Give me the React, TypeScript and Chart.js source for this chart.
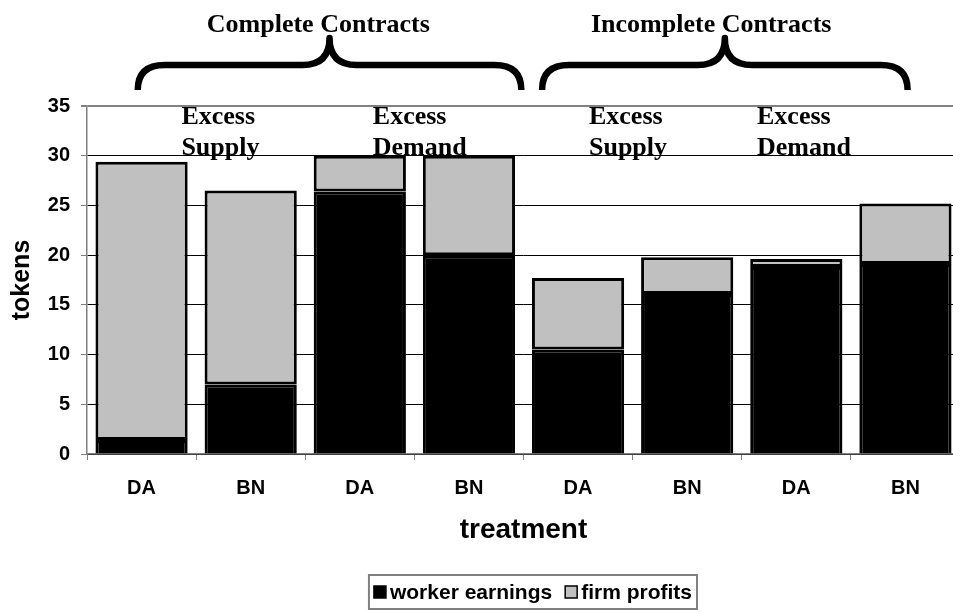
import React, { useEffect, useRef } from 'react';
import { Chart, registerables } from 'chart.js';

Chart.register(...registerables);

const categories = ['DA', 'BN', 'DA', 'BN', 'DA', 'BN', 'DA', 'BN'];
const workerEarnings = [1.4, 7.0, 26.4, 20.0, 10.5, 16.1, 18.8, 19.1];
const firmProfits = [28.0, 19.5, 3.6, 10.0, 7.2, 3.7, 0.8, 6.1];
const seriesNames = ['worker earnings', 'firm profits'];
const yTickValues = [0, 5, 10, 15, 20, 25, 30, 35];
const groupTitles = ['Complete Contracts', 'Incomplete Contracts'];
const marketLabels = [['Excess', 'Supply'], ['Excess', 'Demand'], ['Excess', 'Supply'], ['Excess', 'Demand']];

const SANS = '"Liberation Sans", Arial, sans-serif';
const SERIF = '"Liberation Serif", "Times New Roman", serif';

// annotation anchors in category units (fractional index)
const braceSpans = [
  { from: -0.035, to: 3.48, title: 1.62 },
  { from: 3.67, to: 7.02, title: 5.22 },
];
const marketLabelAnchors = [0.365, 2.119, 4.1, 5.64];

function catX(chart: any, v: number) {
  const a = chart.chartArea;
  const step = (a.right - a.left) / categories.length;
  return a.left + (v + 0.5) * step;
}

function drawBrace(ctx: CanvasRenderingContext2D, x1: number, x2: number, yPeak: number, yFlat: number, yEnd: number) {
  const xm = (x1 + x2) / 2;
  const r = 27;
  ctx.beginPath();
  ctx.moveTo(x1, yEnd);
  ctx.quadraticCurveTo(x1, yFlat, x1 + r, yFlat);
  ctx.lineTo(xm - r, yFlat);
  ctx.quadraticCurveTo(xm, yFlat, xm, yPeak);
  ctx.quadraticCurveTo(xm, yFlat, xm + r, yFlat);
  ctx.lineTo(x2 - r, yFlat);
  ctx.quadraticCurveTo(x2, yFlat, x2, yEnd);
  ctx.stroke();
}

const annotationPlugin = {
  id: 'annotations',
  afterDraw(chart: any) {
    const ctx: CanvasRenderingContext2D = chart.ctx;
    ctx.save();
    ctx.strokeStyle = '#000';
    ctx.lineWidth = 6.5;
    ctx.lineJoin = 'round';
    ctx.lineCap = 'butt';
    braceSpans.forEach((b, i) => {
      drawBrace(ctx, catX(chart, b.from), catX(chart, b.to), 38, 65, 90);
      ctx.fillStyle = '#000';
      ctx.font = `bold 26px ${SERIF}`;
      ctx.textAlign = 'center';
      ctx.textBaseline = 'alphabetic';
      ctx.fillText(groupTitles[i], catX(chart, b.title), 32);
    });
    ctx.font = `bold 26px ${SERIF}`;
    ctx.textAlign = 'left';
    ctx.textBaseline = 'alphabetic';
    marketLabels.forEach((lines, i) => {
      const x = catX(chart, marketLabelAnchors[i]);
      lines.forEach((t, j) => ctx.fillText(t, x, 124 + j * 31));
    });
    ctx.restore();
  },
};

const legendPlugin = {
  id: 'boxLegend',
  afterDraw(chart: any) {
    const ctx: CanvasRenderingContext2D = chart.ctx;
    ctx.save();
    ctx.font = `bold 21px ${SANS}`;
    const sq = 12;
    const gap = 4;
    const itemGap = 13;
    const pad = 5;
    const ds = chart.data.datasets;
    const widths = ds.map((d: any) => sq + gap + ctx.measureText(d.label).width);
    const total = widths.reduce((a: number, b: number) => a + b, 0) + itemGap * (ds.length - 1) + pad * 2;
    const right = 697;
    const top = 575;
    const h = 34;
    const left = right - total;
    ctx.strokeStyle = '#808080';
    ctx.lineWidth = 2;
    ctx.strokeRect(left, top, total, h);
    let x = left + pad;
    const cy = top + h / 2;
    ds.forEach((d: any, i: number) => {
      ctx.fillStyle = d.backgroundColor;
      ctx.fillRect(x, cy - sq / 2, sq, sq);
      ctx.strokeStyle = '#000';
      ctx.lineWidth = 1.5;
      ctx.strokeRect(x, cy - sq / 2, sq, sq);
      ctx.fillStyle = '#000';
      ctx.textAlign = 'left';
      ctx.textBaseline = 'middle';
      ctx.fillText(d.label, x + sq + gap, cy + 1);
      x += widths[i] + itemGap;
    });
    ctx.restore();
  },
};

export default function App() {
  const ref = useRef<HTMLCanvasElement | null>(null);
  useEffect(() => {
    if (!ref.current) return;
    const chart = new Chart(ref.current, {
      type: 'bar',
      data: {
        labels: categories,
        datasets: [
          {
            label: seriesNames[0],
            data: workerEarnings,
            backgroundColor: '#000000',
            borderColor: '#000000',
            borderWidth: 3,
            categoryPercentage: 1,
            barPercentage: 0.845,
          },
          {
            label: seriesNames[1],
            data: firmProfits,
            backgroundColor: '#c0c0c0',
            borderColor: '#000000',
            borderWidth: 3,
            borderSkipped: false,
            categoryPercentage: 1,
            barPercentage: 0.845,
          },
        ],
      },
      options: {
        animation: false,
        responsive: false,
        devicePixelRatio: 1,
        layout: { padding: { top: 106, right: 15, bottom: 58, left: 0 } },
        plugins: { legend: { display: false }, tooltip: { enabled: false } },
        scales: {
          x: {
            stacked: true,
            grid: { display: true, drawOnChartArea: false, drawTicks: true, tickLength: 6, color: '#808080', tickColor: '#808080', offset: true },
            border: { color: '#808080', width: 1.5 },
            ticks: { color: '#000', font: { family: SANS, size: 20, weight: 'bold' }, padding: 16, maxRotation: 0 },
            title: { display: true, text: 'treatment', color: '#000', font: { family: SANS, size: 28, weight: 'bold' }, padding: { top: 0, bottom: 7 } },
            afterFit: (s: any) => { s.height = 100; },
          },
          y: {
            stacked: true,
            min: 0,
            max: 35,
            afterBuildTicks: (s: any) => { s.ticks = yTickValues.map((v) => ({ value: v })); },
            ticks: { color: '#000', font: { family: SANS, size: 20, weight: 'bold' }, padding: 11 },
            grid: {
              color: (c: any) => (c.tick && c.tick.value === 35 ? '#808080' : '#000000'),
              lineWidth: (c: any) => (c.tick && c.tick.value === 35 ? 2 : 1),
              tickColor: '#808080',
              tickLength: 6,
            },
            border: { color: '#808080', width: 1.5 },
            title: { display: true, text: 'tokens', color: '#000', font: { family: SANS, size: 25, weight: 'bold' }, padding: { top: 7, bottom: 0 } },
            afterFit: (s: any) => { s.width = 87; },
          },
        },
      },
      plugins: [annotationPlugin, legendPlugin],
    });
    return () => chart.destroy();
  }, []);
  return (
    <div style={{ position: 'absolute', left: 0, top: 0, width: 953, height: 612, overflow: 'hidden', background: '#fff' }}>
      <canvas ref={ref} width={975} height={612} style={{ display: 'block' }} />
    </div>
  );
}
